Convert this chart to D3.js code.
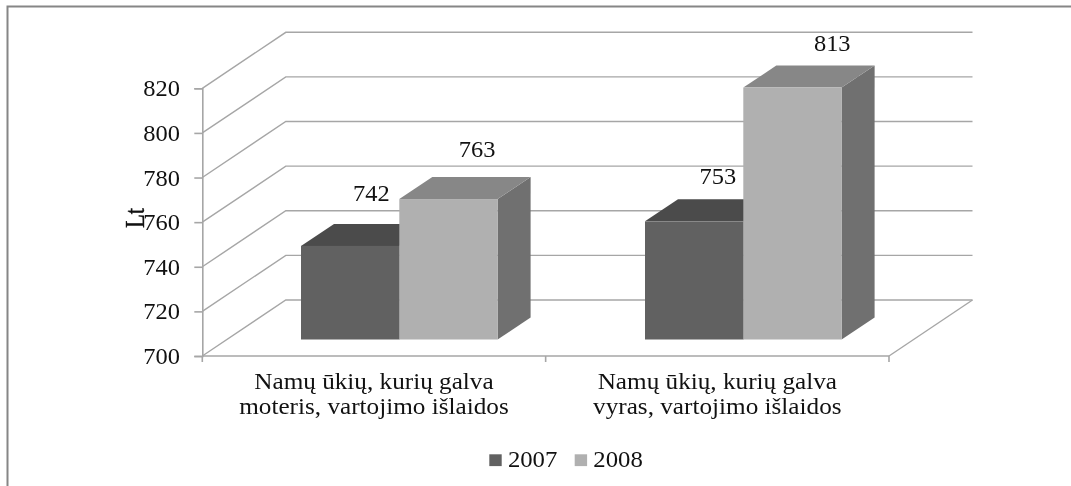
<!DOCTYPE html>
<html><head><meta charset="utf-8">
<script src="https://cdn.jsdelivr.net/npm/d3@7/dist/d3.min.js"></script>
<style>html,body{margin:0;padding:0;background:#fff;overflow:hidden}svg{display:block;filter:blur(0.35px)}text{font-family:"Liberation Serif",serif;fill:#111}</style>
</head><body><svg id="c" width="1071" height="486"></svg>
<script>
const categories = [["Namų ūkių, kurių galva","moteris, vartojimo išlaidos"],["Namų ūkių, kurių galva","vyras, vartojimo išlaidos"]];
const seriesNames = ["2007","2008"];
const values2007 = [742,753];
const values2008 = [763,813];
const yTicks = [700,720,740,760,780,800,820];
const axisTitle = "Lt";
const seriesFace = ["#616161","#b0b0b0"];
const seriesTop = ["#4b4b4b","#878787"];
const seriesSide = ["#565656","#707070"];
const labelNudges = [[[21.3,-45.3],[28.7,-41.7]],[[23.8,-37.7],[39.8,-36.6]]];

const svg = d3.select("#c");
const gridColor = "#a6a6a6";
const wallDx = 83.5, wallDy = -56;
const yFront = d3.scaleLinear().domain([700,820]).range([356,88.3]);
const frontLeft = 202.3, frontRight = 889;
const stretch = (sel,k)=>sel.each(function(){
  d3.select(this).attr("textLength",this.getComputedTextLength()*k).attr("lengthAdjust","spacingAndGlyphs");
});

svg.append("path").attr("d","M7.5,486V6.5H1071").attr("fill","none").attr("stroke","#868686").attr("stroke-width",2);

// walls
const grid = svg.append("g").attr("fill","none").attr("stroke",gridColor).attr("stroke-width",1.4);
grid.selectAll("path.w").data(yTicks).join("path").attr("class","w")
  .attr("d",v=>d3.line()([[frontLeft,yFront(v)],[frontLeft+wallDx,yFront(v)+wallDy],[frontRight+wallDx,yFront(v)+wallDy]]));
grid.append("path").attr("d",d3.line()([[frontRight,yFront(700)],[frontRight+wallDx,yFront(700)+wallDy]]));

// value axis
const axisY = svg.append("g").attr("transform",`translate(${frontLeft},0)`)
  .call(d3.axisLeft(yFront).tickValues(yTicks).tickSize(8).tickPadding(14).tickFormat(d3.format("d")));
axisY.select(".domain").attr("stroke",gridColor).attr("stroke-width",1.6);
axisY.selectAll("line").attr("stroke",gridColor).attr("stroke-width",1.6);
axisY.selectAll("text").attr("x",-22.3).attr("font-size",23.5).attr("font-family","Liberation Serif").attr("fill","#111").call(stretch,1.04);

// category axis
const catBand = d3.scaleBand().domain(d3.range(categories.length)).range([frontLeft,frontRight]);
const axisX = svg.append("g").attr("transform",`translate(0,${yFront(700)})`);
axisX.append("path").attr("d",d3.line()([[frontLeft,0],[frontRight,0]])).attr("stroke",gridColor).attr("stroke-width",1.6);
axisX.selectAll("line").data([0,1,2]).join("line")
  .attr("x1",k=>frontLeft+k*catBand.step()).attr("x2",k=>frontLeft+k*catBand.step()).attr("y1",0).attr("y2",6)
  .attr("stroke",gridColor).attr("stroke-width",1.6);

// bars
const x0 = d3.scaleBand().domain(d3.range(categories.length)).range([226,914]);
const x1 = d3.scaleBand().domain(seriesNames).range([75,271.6]);
const yBar = d3.scaleLinear().domain([700,820]).range([339.5,72]);
const depthX = 33, depthY = -22;
const allValues = [values2007,values2008];
categories.forEach((c,i)=>{
  seriesNames.forEach((s,j)=>{
    const v = allValues[j][i];
    const l = x0(i)+x1(s), r = l+x1.bandwidth(), t = yBar(v), b = yBar(700);
    const g = svg.append("g");
    g.append("path").attr("fill",seriesSide[j])
      .attr("d",d3.line()([[r,t],[r+depthX,t+depthY],[r+depthX,b+depthY],[r,b]])+"Z");
    g.append("path").attr("fill",seriesTop[j])
      .attr("d",d3.line()([[l,t],[l+depthX,t+depthY],[r+depthX,t+depthY],[r,t]])+"Z");
    g.append("rect").attr("x",l).attr("y",t).attr("width",x1.bandwidth()).attr("height",b-t).attr("fill",seriesFace[j]);
  });
});
// data labels
categories.forEach((c,i)=>{
  seriesNames.forEach((s,j)=>{
    const v = allValues[j][i], n = labelNudges[i][j];
    svg.append("text").attr("x",x0(i)+x1(s)+x1.bandwidth()/2+n[0]).attr("y",yBar(v)+n[1])
      .attr("text-anchor","middle").attr("font-size",23.5).text(v).call(stretch,1.04);
  });
});

// category labels
categories.forEach((lines,i)=>{
  const cx = catBand(i)+catBand.bandwidth()/2;
  lines.forEach((t,k)=>{
    svg.append("text").attr("x",cx).attr("y",388.8+k*25.4).attr("text-anchor","middle").attr("font-size",22.5).text(t).call(stretch,1.12);
  });
});

// axis title
svg.append("text").attr("transform","translate(143.5,218) rotate(-90)").attr("text-anchor","middle")
  .attr("font-size",27).attr("textLength",20).attr("lengthAdjust","spacingAndGlyphs")
  .attr("stroke","#111").attr("stroke-width",0.4).text(axisTitle);

// legend
const legendX = d3.scaleOrdinal().domain(seriesNames).range([489.3,574.7]);
seriesNames.forEach((s,j)=>{
  svg.append("rect").attr("x",legendX(s)).attr("y",454.3).attr("width",12.4).attr("height",11.8).attr("fill",seriesFace[j]);
  svg.append("text").attr("x",legendX(s)+18.6).attr("y",466.7).attr("font-size",24).text(s).call(stretch,1.03);
});
</script></body></html>
